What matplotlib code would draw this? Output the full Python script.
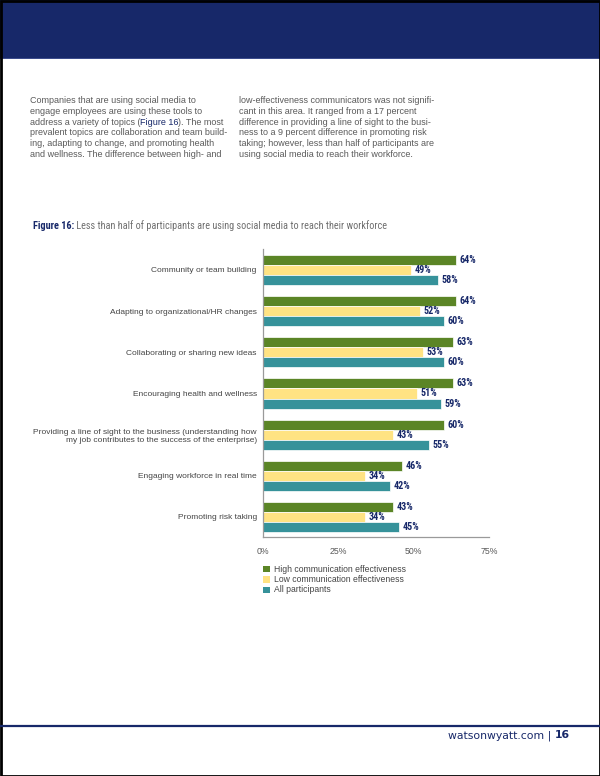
import os
import numpy as np
import matplotlib.pyplot as plt
import matplotlib.font_manager as fm
from matplotlib.patches import Rectangle

categories = [
	"Community or team building",
	"Adapting to organizational/HR changes",
	"Collaborating or sharing new ideas",
	"Encouraging health and wellness",
	"Providing a line of sight to the business (understanding how\nmy job contributes to the success of the enterprise)",
	"Engaging workforce in real time",
	"Promoting risk taking",
]
high_values = [64, 64, 63, 63, 60, 46, 43]
low_values  = [49, 52, 53, 51, 43, 34, 34]
all_values  = [58, 60, 60, 59, 55, 42, 45]
series_names = [
	"High communication effectiveness",
	"Low communication effectiveness",
	"All participants",
]
x_ticks = [0, 25, 50, 75]

left_col = [
	"Companies that are using social media to",
	"engage employees are using these tools to",
	"address a variety of topics (Figure 16). The most",
	"prevalent topics are collaboration and team build-",
	"ing, adapting to change, and promoting health",
	"and wellness. The difference between high- and",
]
right_col = [
	"low-effectiveness communicators was not signifi-",
	"cant in this area. It ranged from a 17 percent",
	"difference in providing a line of sight to the busi-",
	"ness to a 9 percent difference in promoting risk",
	"taking; however, less than half of participants are",
	"using social media to reach their workforce.",
]

NAVY   = "#172869"
GREEN  = "#5b8526"
YELLOW = "#ffe383"
TEAL   = "#36929a"
GRAY   = "#5a5a5a"

plt.rcParams['font.family'] = ['Liberation Sans', 'DejaVu Sans']

def find_narrow(bold):
	# look for a condensed face for the chart title and value labels
	skip = ["Italic", "Oblique", "Light", "Thin", "Medium", "Black", "Semi", "Extra"]
	keys = ["LiberationSansNarrow", "RobotoCondensed", "NotoSans-Condensed",
		"OpenSans_Condensed", "DejaVuSansCondensed", "Condensed", "Narrow"]
	for key in keys:
		for f in fm.fontManager.ttflist:
			fn = os.path.basename(f.fname)
			if key not in fn or any(s in fn for s in skip):
				continue
			if ("Bold" in fn) == bold:
				return fm.FontProperties(fname=f.fname), True
	return fm.FontProperties(family="Liberation Sans", weight="bold" if bold else "normal"), False

narrow_bold, found = find_narrow(True)
narrow_reg, _ = find_narrow(False)

W, H = 600, 776
fig = plt.figure(figsize=(W/100, H/100), dpi=100)

def px(x, y):
	# page pixel coords (from top left) -> figure fraction
	return x / W, 1 - y / H

# page frame, header band and footer rule
bg = fig.add_axes([0, 0, 1, 1])
bg.set_xlim(0, W)
bg.set_ylim(H, 0)
bg.axis("off")
bg.add_patch(Rectangle((0, 0), W, 58, color=NAVY, lw=0))
bg.add_patch(Rectangle((0, 58), W, 1.2, color="#3c4c8c", lw=0))
bg.plot([0, W], [726, 726], color=NAVY, lw=1.6)
bg.add_patch(Rectangle((0.5, 0.5), W - 1, H - 1, fill=False, ec="black", lw=2))

# body text
body_fs = 6.45
for i, line in enumerate(left_col):
	y = 100.5 + i * 10.8
	if "Figure 16" in line:
		a, b = line.split("Figure 16")
		t0 = fig.text(*px(29.5, y), a, fontsize=body_fs, color=GRAY, va="center")
		t1 = plt.annotate("Figure 16", xy=(1, 0.5), xycoords=t0, va="center",
			fontsize=body_fs, color=NAVY, annotation_clip=False)
		plt.annotate(b, xy=(1, 0.5), xycoords=t1, va="center",
			fontsize=body_fs, color=GRAY, annotation_clip=False)
	else:
		fig.text(*px(29.5, y), line, fontsize=body_fs, color=GRAY, va="center")
for i, line in enumerate(right_col):
	fig.text(*px(239, 100.5 + i * 10.8), line, fontsize=body_fs, color=GRAY, va="center")

# figure title
t0 = fig.text(*px(33, 226), "Figure 16:", color=NAVY, va="center",
	fontproperties=narrow_bold)
t1 = plt.annotate(" Less than half of participants are using social media to reach their workforce",
	xy=(1, 0.5), xycoords=t0, va="center", color="#707070",
	annotation_clip=False, fontproperties=narrow_reg)

# chart
ax = fig.add_axes([263/W, 1 - 537/H, 226/W, 288/H])
y = np.arange(len(categories))
bh = 0.245
ax.barh(y - bh, high_values, height=bh, color=GREEN, edgecolor="white", lw=0.5)
ax.barh(y, low_values, height=bh, color=YELLOW, edgecolor="white", lw=0.5)
ax.barh(y + bh, all_values, height=bh, color=TEAL, edgecolor="white", lw=0.5)

value_texts = []
for vals, off in [(high_values, -bh), (low_values, 0), (all_values, bh)]:
	for i, v in enumerate(vals):
		value_texts.append(ax.text(v + 1.2, i + off, f"{v}%", va="center", ha="left",
			fontproperties=narrow_bold, color=NAVY))

ax.set_xlim(0, 75)
ax.set_ylim(len(categories) - 1 + 0.486, -0.51)
ax.set_xticks(x_ticks)
ax.set_xticklabels([f"{t}%" for t in x_ticks], fontsize=6.3, color=GRAY)
ax.set_yticks(y)
ax.set_yticklabels(categories, fontsize=6.05, color="#444444", linespacing=1.25)
ax.tick_params(length=0, pad=4.5)
ax.tick_params(axis="x", pad=7.5)
for s in ["top", "right"]:
	ax.spines[s].set_visible(False)
for s in ["left", "bottom"]:
	ax.spines[s].set_color("#9a9a9a")
	ax.spines[s].set_linewidth(0.9)

# legend
for i, (name, c) in enumerate(zip(series_names, [GREEN, YELLOW, TEAL])):
	yy = 569 + i * 10.5
	bg.add_patch(Rectangle((263.3, yy - 3.4), 6.8, 6.8, color=c, lw=0))
	fig.text(*px(274, yy), name, fontsize=6.2, color="#444444", va="center")

# footer
f0 = fig.text(*px(448, 735.3), "watsonwyatt.com | ", fontsize=7.8, color=NAVY,
	va="center", family="DejaVu Sans")
plt.annotate("16", xy=(1, 0.5), xycoords=f0, va="center", fontsize=7.8,
	color=NAVY, fontweight="bold", family="DejaVu Sans", annotation_clip=False)

# size the condensed texts: match widths when a narrow face exists,
# otherwise split the difference between the width and the glyph height
narrow_bold.set_size(10)
narrow_reg.set_size(10)
t0.set_fontsize(10)
t1.set_fontsize(10)
for t in value_texts:
	t.set_fontsize(10)
fig.canvas.draw()
r = fig.canvas.get_renderer()
title_w = t1.get_window_extent(r).x1 - t0.get_window_extent(r).x0
title_fs = 10 * 353 / title_w
label_w = value_texts[-1].get_window_extent(r).width
label_fs = 10 * 16.5 / label_w
if not found:
	title_fs = (title_fs + 7.6) / 2
	label_fs = (label_fs + 7.6) / 2

t0.set_fontsize(title_fs)
t1.set_fontsize(title_fs)
for t in value_texts:
	t.set_fontsize(label_fs)

fig.savefig("out.png", dpi=100)
